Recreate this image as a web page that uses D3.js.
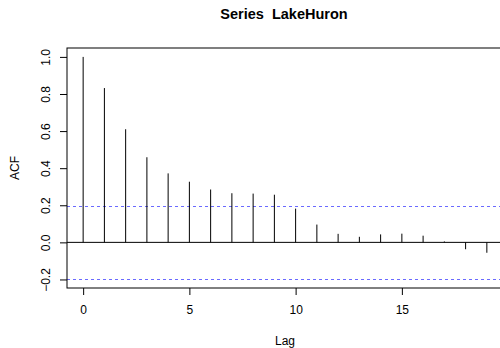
<!DOCTYPE html>
<html><head><meta charset="utf-8">
<script src="https://cdn.jsdelivr.net/npm/d3@7"></script>
<style>body{margin:0;background:#fff}svg{display:block}text{font-family:"Liberation Sans",Arial,sans-serif}</style>
</head><body>
<script>
const title = "Series  LakeHuron";
const lags = [0,1,2,3,4,5,6,7,8,9,10,11,12,13,14,15,16,17,18,19];
const acf = [1.000,0.832,0.610,0.459,0.372,0.327,0.285,0.265,0.263,0.257,0.182,0.096,0.046,0.030,0.043,0.047,0.036,0.005,-0.037,-0.056];
const ci = 0.198;
const xTicks = [0,5,10,15];
const yTicks = [-0.2,0.0,0.2,0.4,0.6,0.8,1.0];

const W=500,H=348;
const svg=d3.select("body").append("svg").attr("width",W).attr("height",H);
const L=67,R=503,T=48,B=288;
const x=d3.scaleLinear().domain([-0.76,19.76]).range([L,R]);
const y=d3.scaleLinear().domain([-0.246,1.048]).range([B,T]);

svg.append("text").attr("x",284).attr("y",19).attr("text-anchor","middle")
  .attr("font-weight","bold").attr("font-size",14.5).style("white-space","pre").text(title);

// zero line
svg.append("line").attr("x1",L).attr("x2",R).attr("y1",y(0)).attr("y2",y(0)).attr("stroke","#000");
// CI lines
[ci,-ci].forEach(v=>{const yy=Math.round(y(v))+0.5;
  svg.append("line").attr("x1",L).attr("x2",R).attr("y1",yy).attr("y2",yy)
  .attr("stroke","#6a6aff").attr("stroke-width",1).attr("stroke-dasharray","3,3").attr("shape-rendering","crispEdges");});
// bars
svg.selectAll(".bar").data(lags).enter().append("line")
  .attr("x1",d=>x(d)).attr("x2",d=>x(d)).attr("y1",y(0)).attr("y2",(d,i)=>y(acf[i]))
  .attr("stroke","#000");
// box
svg.append("rect").attr("x",L).attr("y",T).attr("width",R-L).attr("height",B-T)
  .attr("fill","none").attr("stroke","#000");

// x axis
const xa=svg.append("g").attr("transform",`translate(0,${B})`)
  .call(d3.axisBottom(x).tickValues(xTicks).tickSize(7).tickPadding(10).tickFormat(d3.format("d")));
xa.select(".domain").remove();
xa.selectAll("text").attr("font-size",12).attr("font-family","Liberation Sans, Arial, sans-serif");
// y axis
const ya=svg.append("g").attr("transform",`translate(${L},0)`)
  .call(d3.axisLeft(y).tickValues(yTicks).tickSize(7).tickFormat(d3.format(".1f")));
ya.select(".domain").remove();
ya.selectAll("text").attr("font-size",12).attr("font-family","Liberation Sans, Arial, sans-serif")
  .attr("text-anchor","middle").attr("dy",null).attr("x",0)
  .attr("transform",d=>`translate(-20,0) rotate(-90)`).attr("dominant-baseline","middle");

svg.append("text").attr("x",(L+R)/2).attr("y",345).attr("text-anchor","middle").attr("font-size",12).text("Lag");
svg.append("text").attr("transform",`translate(19,${(T+B)/2}) rotate(-90)`).attr("text-anchor","middle").attr("font-size",12).text("ACF");
</script>
</body></html>
